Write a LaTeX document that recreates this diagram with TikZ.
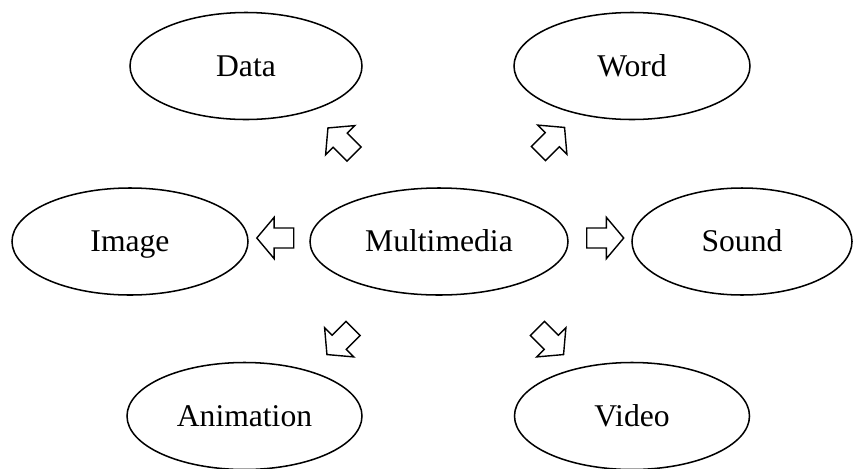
\documentclass[tikz,border=0pt]{standalone}
\usepackage{fontspec}
\setmainfont{Liberation Serif}
\usetikzlibrary{shapes.geometric, shapes.arrows}

\begin{document}
\begin{tikzpicture}[x=0.03cm, y=-0.03cm, e/.style={draw, ellipse, line width=1.3pt, minimum height=3.21cm, minimum width=#1, text height=17.8pt, text depth=0pt, font=\fontsize{27}{30}\selectfont}, a/.style={draw, single arrow, line width=1.2pt, minimum height=1.11cm, inner sep=0.28cm, single arrow head extend=0.32cm, single arrow tip angle=100, rotate=#1}]
	\useasboundingbox (0,0) rectangle (857,468);
	\node (mm) [e=7.74cm] at (439,241.5) {Multimedia};
	\node (data) [e=6.96cm] at (246,66) {Data};
	\node (word) [e=7.08cm] at (632,66) {Word};
	\node (img) [e=7.08cm] at (130,241.5) {Image};
	\node (snd) [e=6.6cm] at (742,241.5) {Sound};
	\node (anim) [e=7.05cm] at (244.5,416) {Animation};
	\node (vid) [e=7.05cm] at (632,416) {Video};
	\node (aimg) [a=180] at (279.5,238) {};
	\node (asnd) [a=0] at (601,238) {};
	\node (adata) [a=135] at (344,144) {};
	\node (aword) [a=45] at (548.5,143.5) {};
	\node (aanim) [a=225] at (343,338.5) {};
	\node (avid) [a=315] at (547.5,338.5) {};
\end{tikzpicture}
\end{document}
